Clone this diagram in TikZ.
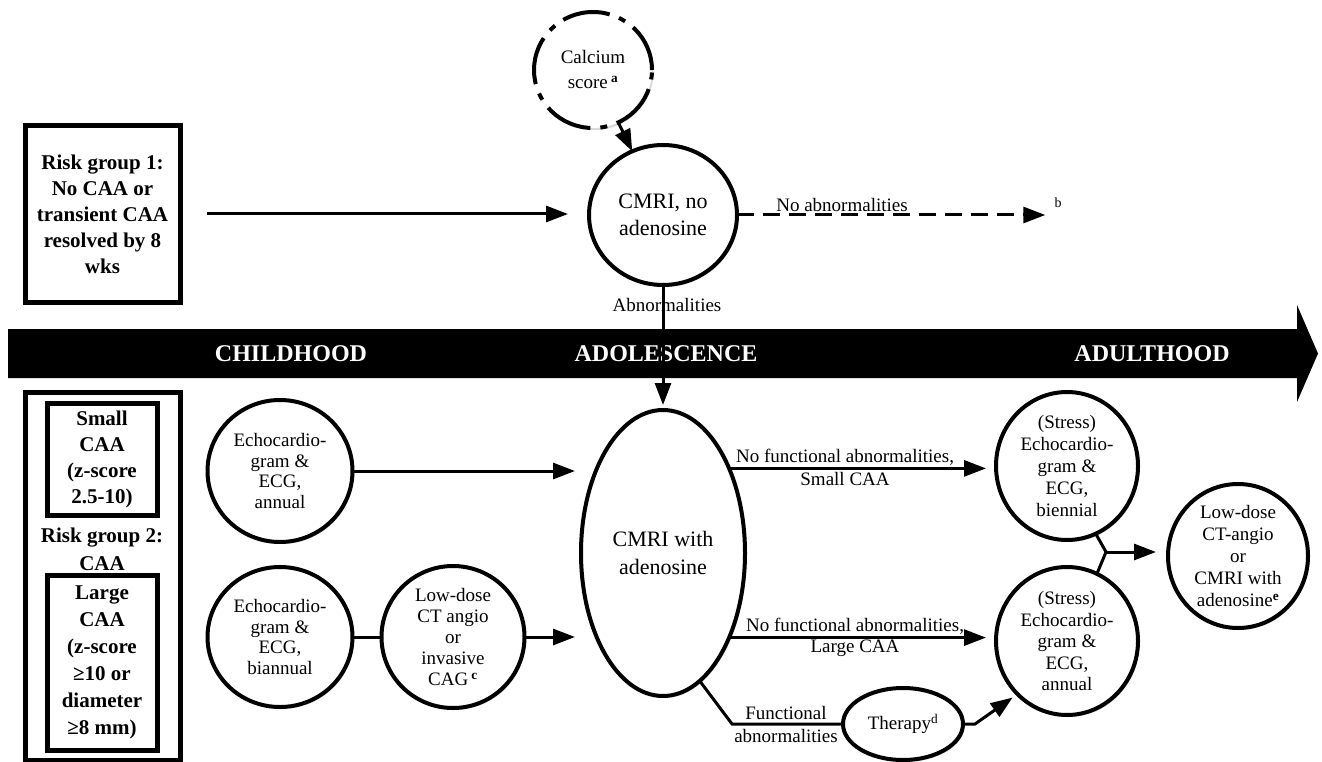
\documentclass[tikz,border=0pt]{standalone}
\usepackage{fontspec}
\setmainfont{Liberation Serif}
\usetikzlibrary{shapes.geometric,arrows.meta,shadows,calc}
\begin{document}
\begin{tikzpicture}[x=1pt,y=-1pt,
  shd/.style={drop shadow={shadow xshift=1.5pt,shadow yshift=-2pt,opacity=0.3,fill=gray}},
  circ/.style={ellipse,draw,line width=4pt,inner sep=0pt,outer sep=0pt,align=center,fill=white,shd,font=\fontsize{19}{21}\selectfont},
  bx/.style={rectangle,draw,line width=5pt,inner sep=0pt,outer sep=0pt,align=center,fill=white,font=\fontsize{21}{26}\selectfont\bfseries},
  bandtxt/.style={text=white,font=\fontsize{24}{24}\selectfont\bfseries},
  lbl/.style={inner sep=0pt,font=\fontsize{19}{21}\selectfont},
  conn/.style={line width=3pt},
  arr/.style={-{Triangle[length=22pt,width=16pt]}},
  calring/.style={dash pattern=on 48pt off 10pt on 7pt off 10pt},
  dashline/.style={dash pattern=on 17pt off 9pt}]
\useasboundingbox (0,0) rectangle (1322,762);
% time band
\fill[black] (8,329) -- (1297,329) -- (1297,305) -- (1318,353.5) -- (1297,402) -- (1297,378) -- (8,378) -- cycle;
\node[bandtxt] (child) at (291,354) {CHILDHOOD};
\node[bandtxt] (adol) at (666,354) {ADOLESCENCE};
\node[bandtxt] (adult) at (1152,354) {ADULTHOOD};
% top part
\node[circ,calring,minimum width=118pt,minimum height=116pt,font=\fontsize{19}{25}\selectfont] (cal) at (593,70) {Calcium\\score\,\textsuperscript{\textbf{a}}};
\node[circ,minimum width=148pt,minimum height=140pt,font=\fontsize{22}{27}\selectfont] (cmri1) at (663,215) {CMRI, no\\adenosine};
\node[bx,shd,minimum width=155pt,minimum height=176pt] (risk1) at (102.5,214) {Risk group 1:\\No CAA or\\transient CAA\\resolved by 8\\wks};
\node[lbl] (noab) at (842,205) {No abnormalities};
\node[inner sep=0pt,font=\fontsize{14}{14}\selectfont] (bnote) at (1058,203) {b};
\node[lbl] (abn) at (667,305) {Abnormalities};
% risk group 2
\node[bx,shd,minimum width=155pt,minimum height=368pt] (risk2) at (102.5,576) {};
\node[bx,minimum width=110pt,minimum height=112pt] (small) at (102,459) {Small\\CAA\\(z-score\\2.5-10)};
\node[inner sep=0pt,align=center,font=\fontsize{21}{28}\selectfont\bfseries] (rg2) at (102,549) {Risk group 2:\\CAA};
\node[bx,minimum width=110pt,minimum height=175pt,font=\fontsize{21}{27}\selectfont\bfseries] (large) at (102,662.5) {Large\\CAA\\(z-score\\≥10 or\\diameter\\≥8 mm)};
% childhood circles
\node[circ,minimum width=145pt,minimum height=142pt,font=\fontsize{19}{20.5}\selectfont] (echo1) at (280,471) {Echocardio-\\gram \&\\ECG,\\annual};
\node[circ,minimum width=145pt,minimum height=140pt,font=\fontsize{19}{20.5}\selectfont] (echo2) at (280,637) {Echocardio-\\gram \&\\ECG,\\biannual};
\node[circ,minimum width=143pt,minimum height=142pt] (low1) at (453,637) {Low-dose\\CT angio\\or\\invasive\\CAG\,\textsuperscript{\textbf{c}}};
% adolescence
\node[circ,minimum width=164pt,minimum height=286pt,font=\fontsize{22}{28}\selectfont] (big) at (663,553) {CMRI with\\adenosine};
\node[circ,minimum width=142pt,minimum height=148pt,font=\fontsize{19}{22}\selectfont] (bien) at (1067,466) {(Stress)\\Echocardio-\\gram \&\\ECG,\\biennial};
\node[circ,minimum width=142pt,minimum height=148pt,font=\fontsize{19}{21.5}\selectfont] (ann) at (1067,641) {(Stress)\\Echocardio-\\gram \&\\ECG,\\annual};
\node[circ,minimum width=140pt,minimum height=144pt,font=\fontsize{19}{22}\selectfont] (rc) at (1238,556) {Low-dose\\CT-angio\\or\\CMRI with\\adenosine\textsuperscript{\textbf{e}}};
\node[circ,minimum width=120pt,minimum height=72pt] (ther) at (903,724) {Therapy\textsuperscript{d}};
% edge labels
\node[lbl] (l1a) at (845,457) {No functional abnormalities,};
\node[lbl] (l1b) at (845,479) {Small CAA};
\node[lbl] (l2a) at (855,626) {No functional abnormalities,};
\node[lbl] (l2b) at (855,648) {Large CAA};
\node[lbl] (l3a) at (786,713) {Functional};
\node[lbl] (l3b) at (786,736) {abnormalities};
\coordinate (fbend) at (732,724);
\coordinate (J) at (1106,552);
% connectors
\draw[conn,arr,shorten <=27pt,shorten >=21pt] (risk1.east) -- (risk1.east -| cmri1.west);
\draw[conn,arr] (cal) -- (cmri1);
\draw[conn,dashline,arr,shorten >=9pt] (cmri1.east) -- (cmri1.east -| bnote.west);
\draw[conn,arr,shorten >=5pt] (cmri1) -- (big);
\draw[conn,arr,shorten >=6pt] (echo1.east) -- (echo1.east -| big.west);
\draw[conn] (echo2) -- (low1);
\draw[conn,arr,shorten >=6pt] (low1.east) -- (low1.east -| big.west);
\draw[conn,arr,shorten >=10pt] (big.52) -- (big.52 -| bien.west);
\draw[conn,arr,shorten >=10pt] (big.-52) -- (big.-52 -| ann.west);
\draw[conn] (big.-74) -- (fbend) -- (fbend -| ther.west);
\draw[conn,arr,shorten >=6pt] (ther.east) -- ++(12,0) -- (ann.-133);
\draw[conn] (bien.-67) -- (J) -- (ann.66);
\draw[conn,arr,shorten >=12pt] (J) -- (J -| rc.west);
\end{tikzpicture}
\end{document}
